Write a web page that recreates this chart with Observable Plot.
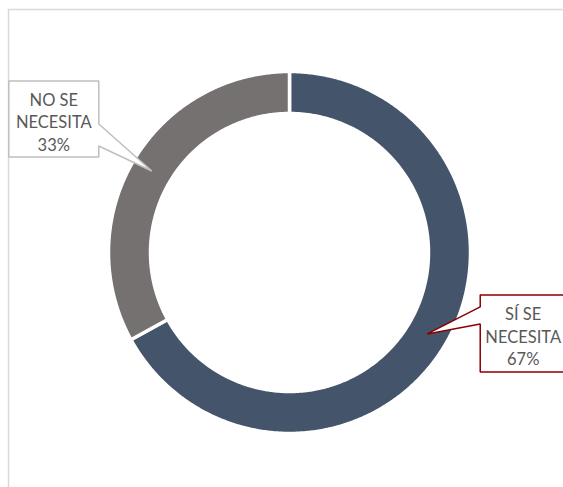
<!DOCTYPE html>
<html>
<head>
<meta charset="utf-8">
<script src="https://cdn.jsdelivr.net/npm/d3@7"></script>
<script src="https://cdn.jsdelivr.net/npm/@observablehq/plot@0.6"></script>
<style>
  html, body { margin: 0; padding: 0; background: #fff; overflow: hidden; }
</style>
</head>
<body>
<div id="chart"></div>
<script>
// ---- data ----
const categories = ["SÍ SE NECESITA", "NO SE NECESITA"];
const labelLines = [["SÍ SE", "NECESITA"], ["NO SE", "NECESITA"]];
const values = [67, 33];
const colors = ["#44546A", "#767171"];
const borderColors = ["#8B0000", "#BFBFBF"];

// ---- layout config ----
const W = 563, H = 487;
const CX = 289, CY = 252;          // pixel center of the donut
const R_OUT = 181, R_IN = 139;
// callout geometry relative to the slice centroid (px, y down)
const calloutGeom = [
  {box: [53, 139, -39, 38], side: "left", wedge: [-27, -10]},
  {box: [-143, -53, -90, -14], side: "right", wedge: [-47, -25]}
];

const total = d3.sum(values);
const arcs = d3.pie().sort(null).value(d => d)(values);

function pt(r, a) { return [r * Math.sin(a), r * Math.cos(a)]; }

// slices as polygons
const slicePts = [];
arcs.forEach((a, i) => {
  const n = Math.max(8, Math.ceil((a.endAngle - a.startAngle) / (Math.PI / 360)));
  const ring = [];
  for (let k = 0; k <= n; k++) ring.push(pt(R_OUT, a.startAngle + (a.endAngle - a.startAngle) * k / n));
  for (let k = n; k >= 0; k--) ring.push(pt(R_IN, a.startAngle + (a.endAngle - a.startAngle) * k / n));
  ring.push(ring[0]);
  ring.forEach(([x, y], j) => slicePts.push({cat: categories[i], x, y, j}));
});

// callouts
const calloutPts = [];
const labels = [];
arcs.forEach((a, i) => {
  const mid = (a.startAngle + a.endAngle) / 2;
  const [tx, ty] = pt((R_OUT + R_IN) / 2, mid); // up-positive units
  const g = calloutGeom[i];
  const [x0, x1, y0, y1] = g.box;
  let poly;
  if (g.side === "left") {
    poly = [[x0, y0], [x1, y0], [x1, y1], [x0, y1], [x0, g.wedge[1]], [0, 0], [x0, g.wedge[0]], [x0, y0]];
  } else {
    poly = [[x0, y0], [x1, y0], [x1, g.wedge[0]], [0, 0], [x1, g.wedge[1]], [x1, y1], [x0, y1], [x0, y0]];
  }
  poly.forEach(([dx, dy], j) => calloutPts.push({cat: categories[i], x: tx + dx, y: ty - dy, j}));
  const pct = Math.round(values[i] / total * 100) + "%";
  labels.push({
    cat: categories[i],
    x: tx + (x0 + x1) / 2,
    y: ty - (y0 + y1) / 2,
    text: [...labelLines[i], pct].join("\n")
  });
});

const chart = Plot.plot({
  width: W,
  height: H,
  margin: 0,
  x: {domain: [-CX, W - CX], range: [0, W], axis: null},
  y: {domain: [CY, CY - H], range: [0, H], axis: null},
  color: {domain: categories, range: colors},
  style: {background: "#fff", overflow: "visible"},
  marks: [
    Plot.frame({stroke: "#D9D9D9", strokeWidth: 1.5, insetLeft: 8, insetTop: 9, insetRight: -10, insetBottom: -10}),
    Plot.line(slicePts, {x: "x", y: "y", z: "cat", fill: "cat", stroke: "#fff", strokeWidth: 3.5, curve: "linear"}),
    Plot.line(calloutPts, {x: "x", y: "y", z: "cat", fill: "#fff",
      stroke: d => borderColors[categories.indexOf(d.cat)], strokeWidth: 1.5, curve: "linear", strokeLinejoin: "miter"}),
    Plot.text(labels, {x: "x", y: "y", text: "text", fill: "#595959", fontSize: 16.5, lineHeight: 1.38, dy: 2,
      fontFamily: "Lato, sans-serif"})
  ]
});
document.getElementById("chart").appendChild(chart);
</script>
</body>
</html>
